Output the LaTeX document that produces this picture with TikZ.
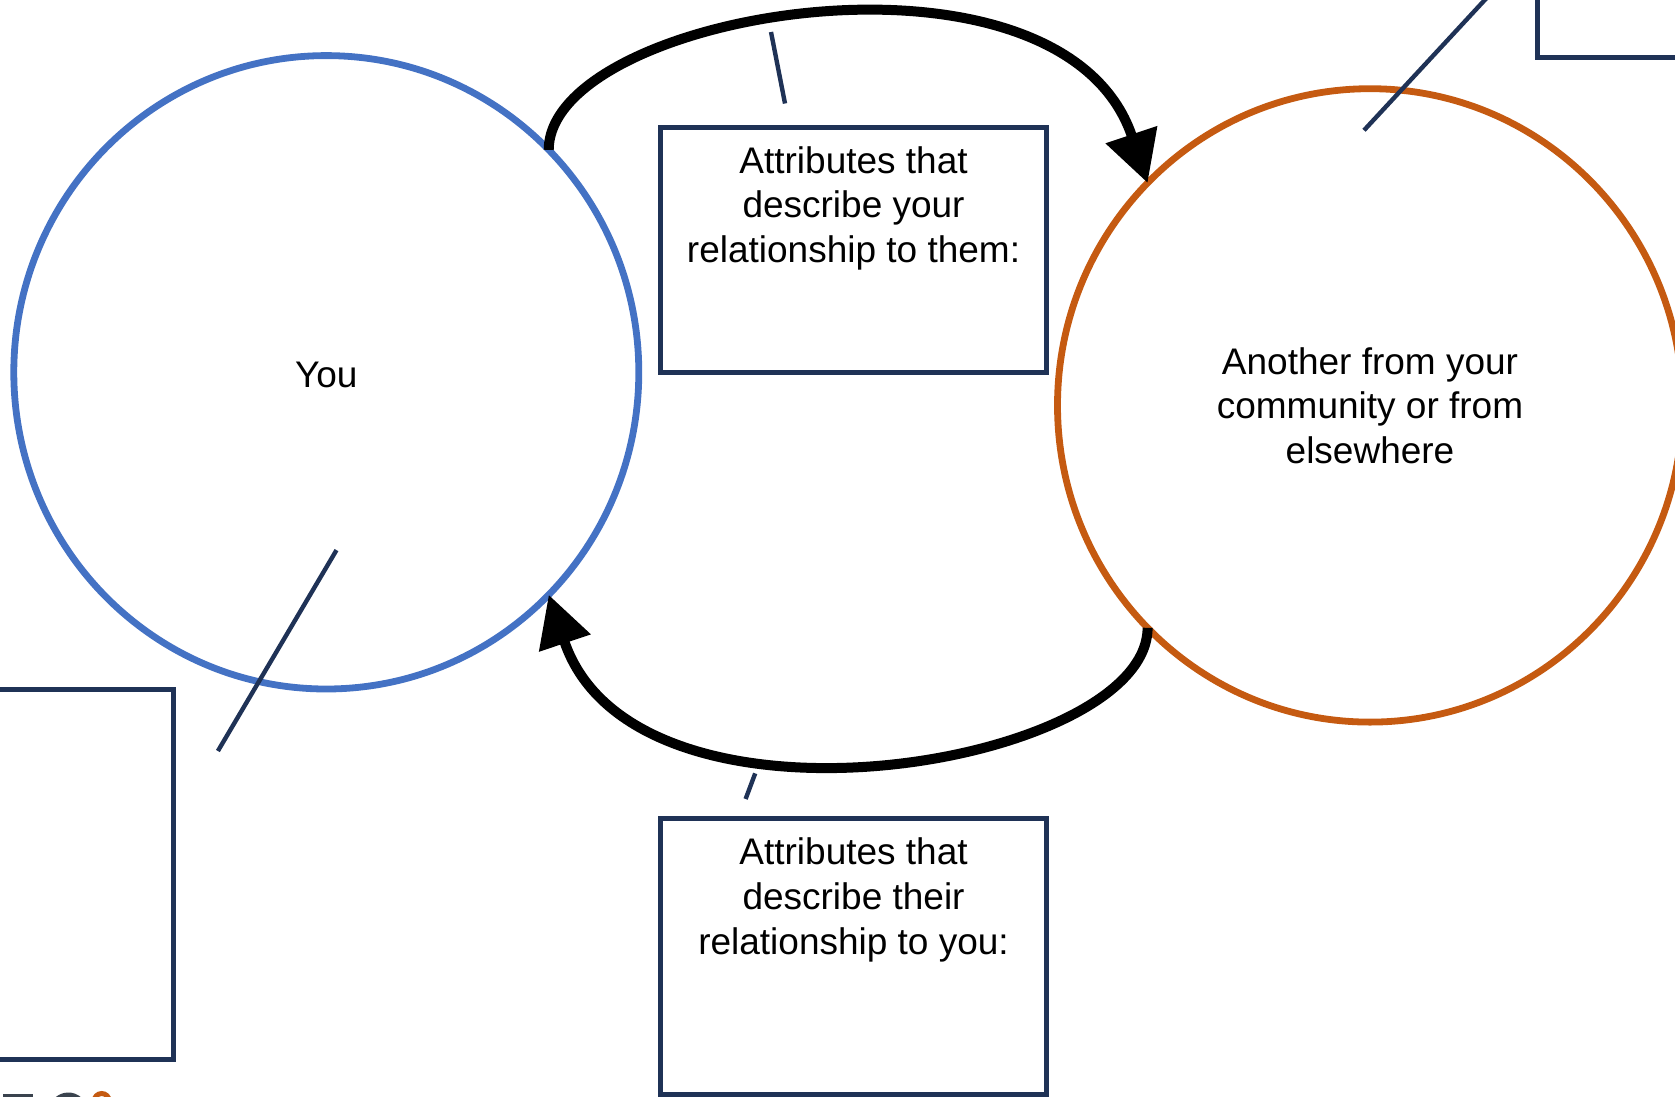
\documentclass[tikz,border=0pt]{standalone}
\usepackage{fontspec}
\setmainfont{Liberation Sans}
\usetikzlibrary{arrows.meta,shapes.geometric}
\definecolor{navy}{HTML}{1F3256}
\definecolor{cblue}{HTML}{4472C4}
\definecolor{corange}{HTML}{C55A11}
\definecolor{logogray}{HTML}{3A434E}
\begin{document}
\begin{tikzpicture}[x=0.5pt,y=0.5pt,
  ring/.style={ellipse, draw, line width=3.4pt, minimum width=312.5pt, minimum height=316.7pt,
    inner sep=0pt, outer sep=0pt, font=\fontsize{18.5}{22.3}\selectfont, align=center},
  callbox/.style={draw=navy, line width=2.5pt, rectangle, inner sep=0pt, outer sep=0pt},
  lbl/.style={font=\fontsize{18.5}{22.3}\selectfont, align=center, inner sep=0pt, anchor=north},
  leader/.style={draw=navy, line width=2.2pt},
  bigarrow/.style={line width=5pt, -{Triangle[length=25.5pt,width=26pt]}}
]
\useasboundingbox (0,0) rectangle (1675,-1097);
\clip (0,0) rectangle (1675,-1097);

% boxes
\node[callbox, minimum width=193.35pt, minimum height=122.85pt] (topbox) at (853.55,-249.95) {};
\node[callbox, minimum width=193.35pt, minimum height=138.35pt] (botbox) at (853.55,-956.55) {};
\node[callbox, minimum width=96.5pt, minimum height=185.35pt] (leftbox) at (76.5,-874.35) {};
\node[callbox, minimum width=81.5pt, minimum height=38.85pt] (trbox) at (1618.5,-18.85) {};

\node[lbl] (toptext) at ([yshift=-9.5pt]topbox.north) {Attributes that\\describe your\\relationship to them:};
\node[lbl] (bottext) at ([yshift=-9.7pt]botbox.north) {Attributes that\\describe their\\relationship to you:};

% circles
\node[ring, draw=cblue] (you) at (326.3,-372.3) {};
\node[font=\fontsize{18.5}{22.3}\selectfont, inner sep=0pt] (youtext) at ([yshift=-1.5pt]you.center) {You};
\node[ring, draw=corange] (other) at (1370,-405.4) {Another from your\\community or from\\elsewhere};

% arrows
\draw[bigarrow] (you.45) .. controls +(90:138) and +(108.5:272) .. (other.135);
\draw[bigarrow] (other.225) .. controls +(-90:138) and +(-71.5:272) .. (you.-45);

% leader lines
\coordinate (la1) at (771,-32);
\coordinate (la2) at (785,-103.5);
\coordinate (lb1) at (1364,-130.3);
\coordinate (lb2) at (1494,10);
\coordinate (lc1) at (217.9,-751);
\coordinate (lc2) at (336.5,-550.1);
\coordinate (ld1) at (745.6,-799);
\coordinate (ld2) at (755.2,-773.4);
\draw[leader] (la1) -- (la2);
\draw[leader] (lb1) -- (lb2);
\draw[leader] (lc1) -- (lc2);
\draw[leader] (ld1) -- (ld2);

% cut-off logo fragments at the bottom edge
\fill[logogray] (3.3,-1094) rectangle (33.3,-1100);
\draw[logogray, line width=2.5pt] (68.3,-1112) ++(160:8.5pt) arc[start angle=160, end angle=20, radius=8.5pt];
\draw[corange, line width=2.5pt] (101.7,-1101) circle[radius=3.75pt];
\end{tikzpicture}
\end{document}
